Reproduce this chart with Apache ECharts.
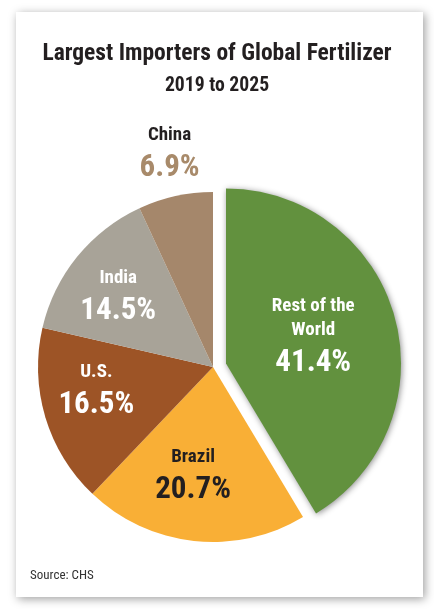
<!DOCTYPE html>
<html>
<head>
<meta charset="utf-8">
<script src="https://cdn.jsdelivr.net/npm/echarts@6/dist/echarts.min.js"></script>
<style>
html,body{margin:0;padding:0;background:#fff;}
#chart{width:434px;height:609px;}
</style>
</head>
<body>
<div id="chart"></div>
<script>
const categories = ["Rest of the World", "Brazil", "U.S.", "India", "China"];
const shares = [41.4, 20.7, 16.5, 14.5, 6.9];
const titleText = "Largest Importers of Global Fertilizer";
const subtitleText = "2019 to 2025";
const sourceText = "Source: CHS";

const FONT = '"Roboto Condensed", "Liberation Sans Narrow", sans-serif';
const colors = ["#62913e", "#f9af36", "#9d5426", "#a8a398", "#a5876b"];
const nameColors = ["#ffffff", "#231f20", "#ffffff", "#ffffff", "#231f20"];
const valueColors = ["#ffffff", "#231f20", "#ffffff", "#ffffff", "#a88a6a"];
const labelOffsets = [[2, -2], [-10, 21], [-30, 0], [-24.5, -11], [-24, -122.5]];
const nameBreaks = {"Rest of the World": ["Rest of the", "World"]};

const data = categories.map((c, i) => ({
  name: c,
  value: shares[i],
  selected: i === 0,
  itemStyle: i === 0 ? {color: colors[i], shadowBlur: 6, shadowColor: 'rgba(0,0,0,0.45)', shadowOffsetX: 1, shadowOffsetY: 1} : {color: colors[i]},
  label: {
    offset: labelOffsets[i],
    rich: {
      n: {fontFamily: FONT, fontWeight: 'bold', fontSize: 19, lineHeight: 24, color: nameColors[i], align: 'center'},
      v: {fontFamily: FONT, fontWeight: 'bold', fontSize: 31, lineHeight: 42, color: valueColors[i], align: 'center'}
    }
  }
}));

const chart = echarts.init(document.getElementById('chart'), null, {renderer: 'canvas'});
chart.setOption({
  animation: false,
  backgroundColor: '#ffffff',
  graphic: [{
    type: 'rect', z: -10,
    shape: {x: 16, y: 12, width: 407, height: 585},
    style: {fill: '#ffffff', shadowBlur: 9, shadowColor: 'rgba(0,0,0,0.38)', shadowOffsetX: 2, shadowOffsetY: 2}
  }, {
    type: 'text', z: 10, left: 30, top: 569,
    style: {text: sourceText, fontFamily: FONT, fontSize: 13, fill: '#333333'}
  }],
  title: [{
    text: titleText, left: 'center', top: 37,
    textStyle: {fontFamily: FONT, fontWeight: 'bold', fontSize: 23.5, color: '#231f20'}
  }, {
    text: subtitleText, left: 'center', top: 71,
    textStyle: {fontFamily: FONT, fontWeight: 'bold', fontSize: 19.7, color: '#231f20'}
  }],
  series: [{
    type: 'pie',
    center: [213, 367],
    radius: [0, 175],
    startAngle: 90,
    clockwise: true,
    selectedMode: 'single',
    selectedOffset: 13.5,
    avoidLabelOverlap: false,
    emphasis: {disabled: true},
    labelLine: {show: false},
    label: {
      show: true,
      position: 'inside',
      formatter: function (p) {
        const lines = nameBreaks[p.name] || [p.name];
        return lines.map(l => '{n|' + l + '}').join('\n') + '\n{v|' + p.value.toFixed(1) + '%}';
      }
    },
    data: data
  }]
});
</script>
</body>
</html>
